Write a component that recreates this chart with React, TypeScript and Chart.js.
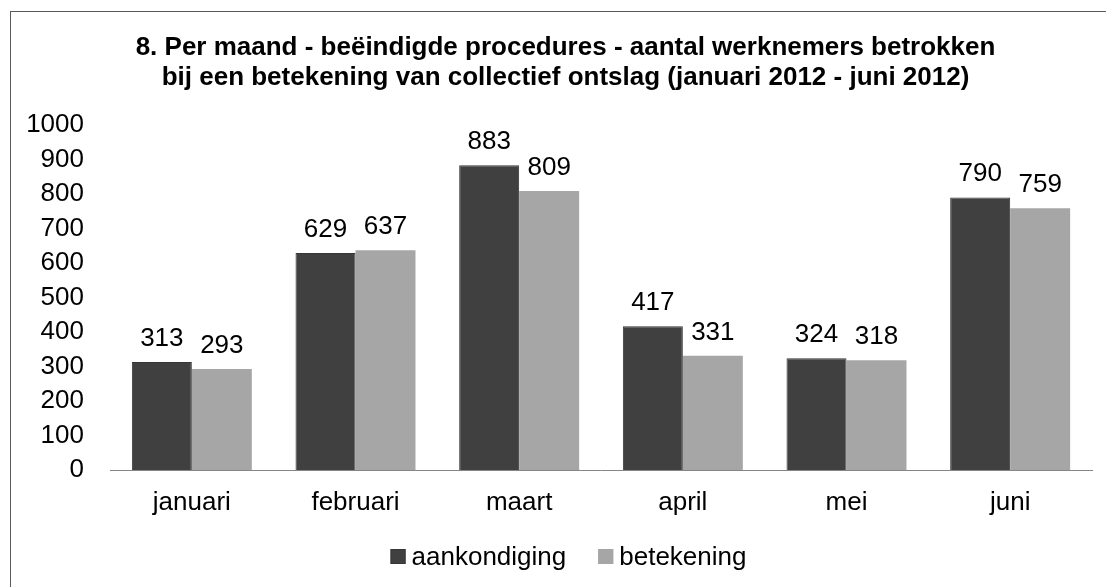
import React, { useEffect, useRef } from "react";
import { Chart, registerables } from "chart.js";

Chart.register(...registerables);

// ---- data ----
const categories = ["januari", "februari", "maart", "april", "mei", "juni"];
const aankondiging = [313, 629, 883, 417, 324, 790];
const betekening = [293, 637, 809, 331, 318, 759];
const seriesNames = ["aankondiging", "betekening"];
const titleLines = [
  "8. Per maand - beëindigde procedures - aantal werknemers betrokken",
  "bij een betekening van collectief ontslag (januari 2012 - juni 2012)",
];
const yMin = 0;
const yMax = 1000;
const yStep = 100;

// ---- style ----
const FONT = "'Liberation Sans', Arial, Helvetica, sans-serif";
const W = 1109;
const H = 580;
const DARK = "#404040";
const DARK_BORDER = "#363636";
const LIGHT = "#a6a6a6";
const LIGHT_BORDER = "#a6a6a6";
const TXT = 26;

const chartTitle = {
  id: "chartTitle",
  afterDraw(chart: any) {
    const ctx = chart.ctx;
    ctx.save();
    ctx.font = `bold ${TXT}px ${FONT}`;
    ctx.fillStyle = "#000";
    ctx.textAlign = "center";
    ctx.textBaseline = "middle";
    titleLines.forEach((line, i) => {
      ctx.fillText(line, chart.width / 2, 36 + i * 30);
    });
    ctx.restore();
  },
};

const valueLabels = {
  id: "valueLabels",
  afterDatasetsDraw(chart: any) {
    const ctx = chart.ctx;
    ctx.save();
    ctx.font = `${TXT}px ${FONT}`;
    ctx.fillStyle = "#000";
    ctx.textAlign = "center";
    ctx.textBaseline = "alphabetic";
    chart.data.datasets.forEach((ds: any, i: number) => {
      const meta = chart.getDatasetMeta(i);
      meta.data.forEach((el: any, j: number) => {
        ctx.fillText(String(ds.data[j]), el.x, el.y - 16);
      });
    });
    ctx.restore();
  },
};

const customLegend = {
  id: "customLegend",
  afterDraw(chart: any) {
    const ctx = chart.ctx;
    ctx.save();
    ctx.font = `${TXT}px ${FONT}`;
    const box = 15;
    const gap = 6;
    const itemGap = 32;
    const items = chart.data.datasets.map((ds: any) => ({
      label: ds.label,
      fill: ds.backgroundColor,
      stroke: ds.borderColor,
      w: ctx.measureText(ds.label).width,
    }));
    const total =
      items.reduce((s: number, it: any) => s + box + gap + it.w, 0) +
      itemGap * (items.length - 1);
    let x = chart.width / 2 - total / 2 + 3;
    const cy = 544.5;
    ctx.textBaseline = "middle";
    ctx.textAlign = "left";
    items.forEach((it: any) => {
      ctx.fillStyle = it.fill;
      ctx.fillRect(x, cy - box / 2, box, box);
      ctx.strokeStyle = it.stroke;
      ctx.lineWidth = 1;
      ctx.strokeRect(x + 0.5, cy - box / 2 + 0.5, box - 1, box - 1);
      ctx.fillStyle = "#000";
      ctx.fillText(it.label, x + box + gap, cy + 1);
      x += box + gap + it.w + itemGap;
    });
    ctx.restore();
  },
};

export default function App() {
  const ref = useRef<HTMLCanvasElement | null>(null);

  useEffect(() => {
    if (!ref.current) return;
    const chart = new Chart(ref.current, {
      type: "bar",
      data: {
        labels: categories,
        datasets: [
          {
            label: seriesNames[0],
            data: aankondiging,
            backgroundColor: DARK,
            borderColor: DARK_BORDER,
            borderWidth: 1,
            categoryPercentage: 0.733,
            barPercentage: 1,
          },
          {
            label: seriesNames[1],
            data: betekening,
            backgroundColor: LIGHT,
            borderColor: LIGHT_BORDER,
            borderWidth: 0,
            categoryPercentage: 0.733,
            barPercentage: 1,
          },
        ],
      },
      options: {
        responsive: false,
        animation: false,
        devicePixelRatio: 1,
        layout: { padding: { left: 0, right: 28, top: 113, bottom: 74 } },
        plugins: {
          legend: { display: false },
          tooltip: { enabled: false },
          title: { display: false },
        },
        scales: {
          x: {
            grid: { display: false, drawTicks: false },
            border: { display: true, color: "#868686", width: 1 },
            ticks: {
              color: "#000",
              font: { family: FONT, size: TXT, lineHeight: 1.2 },
              padding: 17,
              maxRotation: 0,
              autoSkip: false,
            },
            afterFit(scale: any) {
              scale.height = 48;
            },
          },
          y: {
            min: yMin,
            max: yMax,
            grid: { display: false, drawTicks: false },
            border: { display: false },
            ticks: {
              stepSize: yStep,
              autoSkip: false,
              color: "#000",
              font: { family: FONT, size: TXT, lineHeight: 1.2 },
              padding: 26,
              callback: (v: any) => String(v),
            },
            afterFit(scale: any) {
              scale.width = 99;
            },
          },
        },
      },
      plugins: [chartTitle, valueLabels, customLegend],
    });
    return () => chart.destroy();
  }, []);

  return (
    <div
      style={{
        position: "absolute",
        left: 0,
        top: 0,
        width: 1106,
        height: 587,
        overflow: "hidden",
        background: "#fff",
      }}
    >
      <div
        style={{
          position: "absolute",
          left: 10,
          top: 11,
          borderLeft: "1px solid #5a5a5a",
          borderTop: "1px solid #5a5a5a",
        }}
      >
        <canvas ref={ref} width={W} height={H} style={{ display: "block" }} />
      </div>
    </div>
  );
}
